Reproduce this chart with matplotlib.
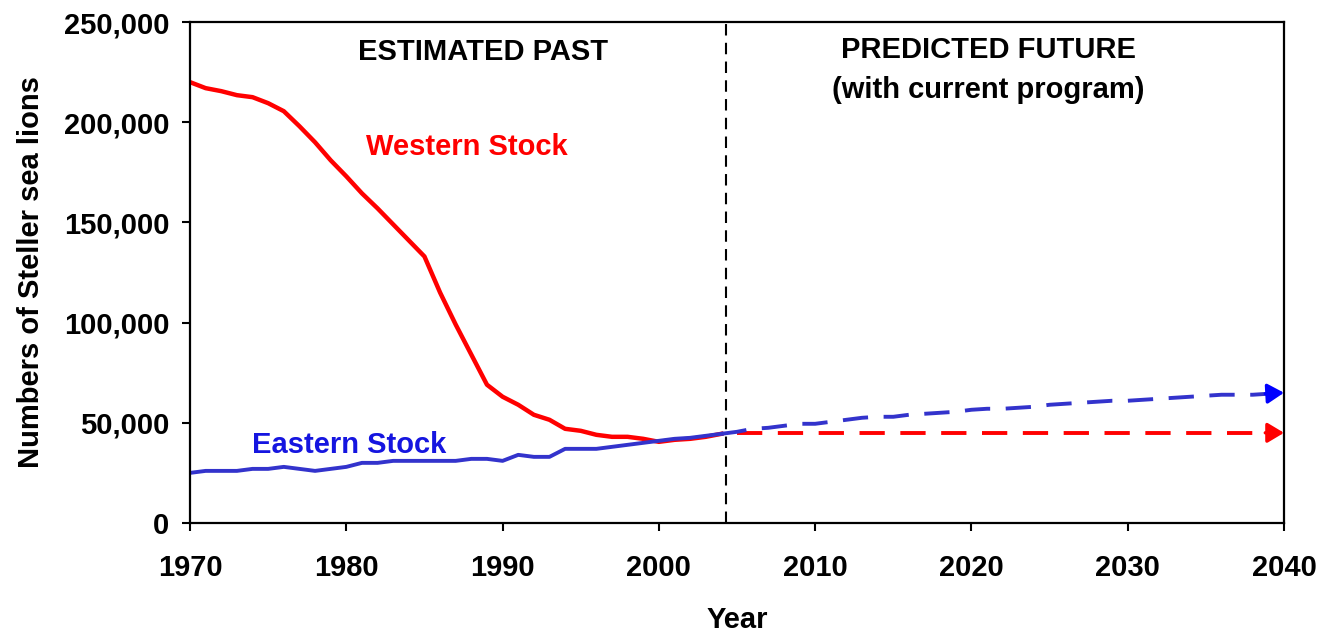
import matplotlib
matplotlib.use("Agg")
import matplotlib.pyplot as plt
from matplotlib.ticker import FuncFormatter

plt.rcParams['font.family'] = ['Liberation Sans', 'DejaVu Sans']
plt.rcParams['font.weight'] = 'bold'

# estimated past, 1970-2004
past_years = list(range(1970, 2005))
western_past = [220000, 217000, 215500, 213500, 212500, 209500, 205500, 198000, 190000, 181000,
                173000, 164500, 157000, 149000, 141000, 133000, 115000, 99000, 84000, 69000,
                63000, 59000, 54000, 51500, 47000, 46000, 44000, 43000, 43000, 42000,
                40500, 41500, 42000, 43000, 44500]
eastern_past = [25000, 26000, 26000, 26000, 27000, 27000, 28000, 27000, 26000, 27000,
                28000, 30000, 30000, 31000, 31000, 31000, 31000, 31000, 32000, 32000,
                31000, 34000, 33000, 33000, 37000, 37000, 37000, 38000, 39000, 40000,
                41000, 42000, 42500, 43500, 44500]

# predicted future (with current program)
future_years = list(range(2004, 2041))
eastern_future = [44500, 45500, 47000, 47500, 48500, 49500, 49500, 50500, 51500, 52500,
                  53000, 53000, 54000, 54500, 55000, 55500, 56500, 57000, 57000, 57500,
                  58000, 59000, 59500, 60000, 60500, 61000, 61000, 61500, 62000, 62500,
                  63000, 63500, 64000, 64000, 64000, 64500, 65000]
western_future_years = [2005, 2040]
western_future = [45000, 45000]

divider_year = 2004.3
x_ticks = list(range(1970, 2041, 10))
y_ticks = list(range(0, 250001, 50000))

RED = '#FF0000'
BLUE = '#3333CC'

fig = plt.figure(figsize=(13.27, 6.33), dpi=100)
ax = fig.add_axes([0.1432, 0.1738, 0.8244, 0.7914])

ax.plot(past_years, western_past, color=RED, lw=3.2, solid_joinstyle='round')
ax.plot(past_years, eastern_past, color=BLUE, lw=2.8, solid_joinstyle='round')

# future lines (dashed) with arrow heads at the end
ax.plot(western_future_years[:-1] + [western_future_years[-1] - 0.6], western_future,
        color=RED, lw=2.8, dashes=(6.5, 4.0))
ax.plot(future_years[:-1] + [future_years[-1] - 0.6], eastern_future,
        color=BLUE, lw=2.8, dashes=(6.5, 4.0))
arrow_style = '-|>,head_length=0.5,head_width=0.3'
ax.annotate('', xy=(western_future_years[-1], western_future[-1]),
            xytext=(western_future_years[-1] - 1.2, western_future[-1]),
            arrowprops=dict(arrowstyle=arrow_style, color=RED,
                            lw=2.4, shrinkA=0, shrinkB=0, mutation_scale=20))
ax.annotate('', xy=(future_years[-1], eastern_future[-1]),
            xytext=(future_years[-1] - 1.2, eastern_future[-2]),
            arrowprops=dict(arrowstyle=arrow_style, color='#0000FF',
                            lw=2.4, shrinkA=0, shrinkB=0, mutation_scale=20))

ax.axvline(divider_year, color='black', lw=1.5, dashes=(5.5, 3.5))

ax.text(1988.75, 235000, 'ESTIMATED PAST', ha='center', va='center', fontsize=21, fontweight='bold')
ax.text(2021.1, 236000, 'PREDICTED FUTURE', ha='center', va='center', fontsize=21, fontweight='bold')
ax.text(2021.1, 216000, '(with current program)', ha='center', va='center', fontsize=21, fontweight='bold')
ax.text(1987.7, 187500, 'Western Stock', ha='center', va='center', fontsize=21, fontweight='bold', color=RED)
ax.text(1980.2, 39000, 'Eastern Stock', ha='center', va='center', fontsize=21, fontweight='bold', color='#1515E0')

ax.set_xlim(1970, 2040)
ax.set_ylim(0, 250000)
ax.set_xticks(x_ticks)
ax.set_yticks(y_ticks)
ax.yaxis.set_major_formatter(FuncFormatter(lambda v, p: f'{int(v):,}'))
ax.tick_params(axis='both', direction='out', length=6, width=1.5, labelsize=21)
ax.tick_params(axis='x', pad=16)
ax.tick_params(axis='y', pad=9)
for lab in ax.get_xticklabels() + ax.get_yticklabels():
    lab.set_fontweight('bold')
for sp in ax.spines.values():
    sp.set_linewidth(1.6)

ax.set_ylabel('Numbers of Steller sea lions', fontsize=21, fontweight='bold')
ax.yaxis.set_label_coords(-0.133, 0.5)
ax.set_xlabel('Year', fontsize=21, fontweight='bold')
ax.xaxis.set_label_coords(0.5, -0.165)

fig.savefig('out.png', dpi=100)
